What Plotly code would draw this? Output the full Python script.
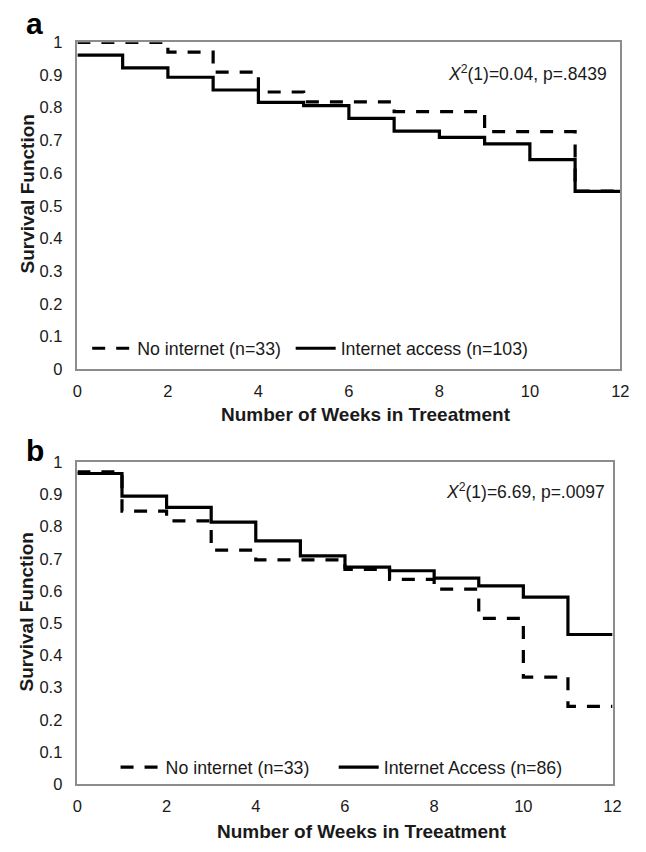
import plotly.graph_objects as go

# ---------------- data ----------------
weeks = list(range(13))                      # step edges 0..12
# survival value on each weekly interval [w, w+1)
a_no_internet = [1.000, 1.000, 0.970, 0.909, 0.848, 0.818, 0.818, 0.788, 0.788, 0.727, 0.727, 0.545]
a_internet    = [0.961, 0.922, 0.893, 0.854, 0.816, 0.806, 0.767, 0.728, 0.709, 0.689, 0.641, 0.544]
b_no_internet = [0.970, 0.848, 0.818, 0.727, 0.697, 0.697, 0.667, 0.636, 0.606, 0.515, 0.333, 0.242]
b_internet    = [0.965, 0.895, 0.860, 0.814, 0.756, 0.709, 0.674, 0.663, 0.640, 0.616, 0.581, 0.465]

x_tickvals = [0, 2, 4, 6, 8, 10, 12]
y_tickvals = [0, 0.1, 0.2, 0.3, 0.4, 0.5, 0.6, 0.7, 0.8, 0.9, 1]
y_ticktext = ["0", "0.1", "0.2", "0.3", "0.4", "0.5", "0.6", "0.7", "0.8", "0.9", "1"]

names_a = ["No internet (n=33)", "Internet access (n=103)"]
names_b = ["No internet (n=33)", "Internet Access (n=86)"]
stat_a = "<i>X</i><sup>2</sup>(1)=0.04, p=.8439"
stat_b = "<i>X</i><sup>2</sup>(1)=6.69, p=.0097"
x_title = "<b>Number of Weeks in Treeatment</b>"
y_title = "<b>Survival Function</b>"

# ---------------- layout helpers (pixels -> paper) ----------------
W, H = 646, 852
FONT = "Liberation Sans, Arial, Helvetica, sans-serif"
INK = "#1a1a1a"

def px(x):
    return x / W

def py(y):
    return 1 - y / H

def steps(v):
    return v + [v[-1]]

fig = go.Figure()

dash = "13px,11px"
series = [
    ("x", "y", a_no_internet, names_a[0], dash, "legend"),
    ("x", "y", a_internet, names_a[1], "solid", "legend2"),
    ("x2", "y2", b_no_internet, names_b[0], dash, "legend3"),
    ("x2", "y2", b_internet, names_b[1], "solid", "legend4"),
]
for xa, ya, vals, name, d, lg in series:
    fig.add_trace(go.Scatter(
        x=weeks, y=steps(vals), xaxis=xa, yaxis=ya, name=name,
        mode="lines", line=dict(color="#000000", width=3.2, dash=d, shape="hv"),
        legend=lg, showlegend=True, hoverinfo="skip"))

axis_common = dict(showline=True, mirror=True, linecolor="#8c8c8c", linewidth=1.5,
                   showgrid=False, zeroline=False, ticks="", fixedrange=True,
                   tickfont=dict(family=FONT, size=16.5, color=INK))

fig.update_layout(
    width=W, height=H, margin=dict(l=0, r=0, t=0, b=0),
    paper_bgcolor="white", plot_bgcolor="white",
    font=dict(family=FONT, color=INK),
    xaxis=dict(domain=[px(74), px(629)], anchor="y", range=[0, 12],
               tickvals=x_tickvals, ticklabelstandoff=6, **axis_common),
    yaxis=dict(domain=[py(368), py(34)], anchor="x", range=[0, 1],
               tickvals=y_tickvals, ticktext=y_ticktext, ticklabelstandoff=10, **axis_common),
    xaxis2=dict(domain=[px(74), px(621)], anchor="y2", range=[0, 12],
                tickvals=x_tickvals, ticklabelstandoff=6, **axis_common),
    yaxis2=dict(domain=[py(792), py(463)], anchor="x2", range=[0, 1],
                tickvals=y_tickvals, ticktext=y_ticktext, ticklabelstandoff=10, **axis_common),
)

leg_common = dict(orientation="h", bgcolor="rgba(0,0,0,0)", borderwidth=0,
                  xanchor="left", yanchor="middle", itemwidth=40,
                  font=dict(family=FONT, size=17.8, color=INK))
fig.update_layout(
    legend=dict(x=px(84), y=py(347), **leg_common),
    legend2=dict(x=px(292), y=py(347), **leg_common),
    legend3=dict(x=px(113), y=py(775), **leg_common),
    legend4=dict(x=px(336), y=py(775), **leg_common),
)

ann = []
# panel letters
ann.append(dict(text="<b>a</b>", x=px(19), y=py(14.5), xanchor="left", yanchor="middle",
                font=dict(family=FONT, size=30, color="#000")))
ann.append(dict(text="<b>b</b>", x=px(19), y=py(451.5), xanchor="left", yanchor="middle",
                font=dict(family=FONT, size=30, color="#000")))
# statistics
ann.append(dict(text=stat_a, x=px(617), y=py(65), xanchor="right", yanchor="middle",
                font=dict(family=FONT, size=17.5, color=INK)))
ann.append(dict(text=stat_b, x=px(615), y=py(492), xanchor="right", yanchor="middle",
                font=dict(family=FONT, size=17.5, color=INK)))
# axis titles
for cx, cy in [(369, 414), (365, 840)]:
    ann.append(dict(text=x_title, x=px(cx), y=py(cy), xanchor="center", yanchor="middle",
                    font=dict(family=FONT, size=19, color=INK)))
for cx, cy in [(22, 189), (22, 616)]:
    ann.append(dict(text=y_title, x=px(cx), y=py(cy), xanchor="center", yanchor="middle",
                    textangle=-90, font=dict(family=FONT, size=19, color=INK)))
for a in ann:
    a.update(xref="paper", yref="paper", showarrow=False)
fig.update_layout(annotations=ann)

fig.write_html("out.html", config={"displayModeBar": False},
               post_script="document.body.style.margin='0';")
